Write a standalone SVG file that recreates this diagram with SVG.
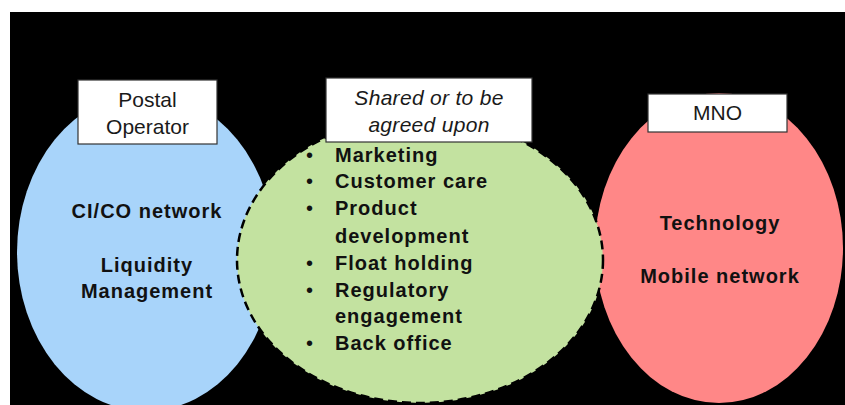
<svg xmlns="http://www.w3.org/2000/svg" width="845" height="405" viewBox="0 0 845 405">
<style>
.lbl{font-family:"Liberation Sans",Arial,sans-serif;font-size:21px;fill:#1a1a1a;text-anchor:middle}
.it{font-style:italic}
.b{font-family:"Liberation Sans",Arial,sans-serif;font-size:20px;font-weight:bold;fill:#111;letter-spacing:1px}
.c{text-anchor:middle}
.box{fill:#fff;stroke:#333;stroke-width:1.2}
</style>
<rect x="0" y="0" width="845" height="405" fill="#fff"/>
<rect x="10" y="12" width="835" height="393" fill="#000"/>
<g id="postal">
<ellipse cx="146" cy="252" rx="129" ry="159" fill="#A8D4FA"/>
<text class="b c" x="147" y="218">CI/CO network</text>
<text class="b c" x="147" y="272">Liquidity</text>
<text class="b c" x="147" y="298">Management</text>
</g>
<g id="mno">
<ellipse cx="719" cy="248" rx="124" ry="155" fill="#FF8787"/>
<text class="b c" x="720" y="230">Technology</text>
<text class="b c" x="720" y="283">Mobile network</text>
</g>
<g id="shared">
<ellipse cx="420" cy="260" rx="183" ry="143" fill="#C3E2A0" stroke="#000" stroke-width="2.5" stroke-dasharray="9,5"/>
<g class="b">
<text x="306" y="162" font-weight="normal">•</text><text x="335" y="162">Marketing</text>
<text x="306" y="188" font-weight="normal">•</text><text x="335" y="188">Customer care</text>
<text x="306" y="215" font-weight="normal">•</text><text x="335" y="215">Product</text>
<text x="335" y="243">development</text>
<text x="306" y="270" font-weight="normal">•</text><text x="335" y="270">Float holding</text>
<text x="306" y="297" font-weight="normal">•</text><text x="335" y="297">Regulatory</text>
<text x="335" y="323">engagement</text>
<text x="306" y="350" font-weight="normal">•</text><text x="335" y="350">Back office</text>
</g>
</g>
<g id="label-postal">
<rect class="box" x="78" y="80" width="139" height="64"/>
<text class="lbl" x="147.5" y="107">Postal</text>
<text class="lbl" x="147.5" y="134">Operator</text>
</g>
<g id="label-shared">
<rect class="box" x="326" y="78" width="206" height="64"/>
<text class="lbl it" x="429" y="105" letter-spacing="0.3">Shared or to be</text>
<text class="lbl it" x="429" y="132" letter-spacing="0.3">agreed upon</text>
</g>
<g id="label-mno">
<rect class="box" x="648" y="94" width="139" height="38"/>
<text class="lbl" x="717.5" y="120">MNO</text>
</g>
<g id="connectors"/>
</svg>
